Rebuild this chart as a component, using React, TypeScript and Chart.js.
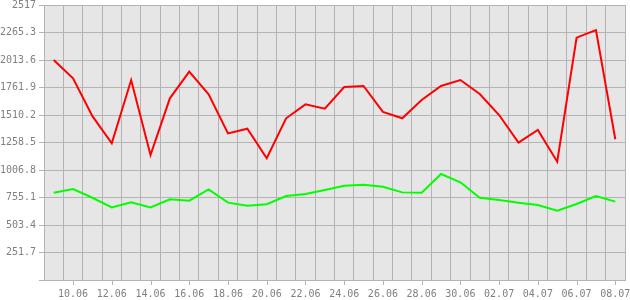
import React, { useEffect, useRef } from "react";
import { Chart, registerables } from "chart.js";

Chart.register(...registerables);

const dates = [
  "09.06", "10.06", "11.06", "12.06", "13.06", "14.06", "15.06", "16.06", "17.06", "18.06",
  "19.06", "20.06", "21.06", "22.06", "23.06", "24.06", "25.06", "26.06", "27.06", "28.06",
  "29.06", "30.06", "01.07", "02.07", "03.07", "04.07", "05.07", "06.07", "07.07", "08.07",
];

const redSeries = [
  2014, 1846, 1500, 1251, 1830, 1144, 1663, 1907, 1699, 1342,
  1385, 1114, 1480, 1608, 1568, 1766, 1776, 1538, 1480, 1647,
  1776, 1830, 1702, 1510, 1257, 1373, 1083, 2218, 2288, 1288,
];

const greenSeries = [
  799, 833, 753, 665, 711, 665, 738, 726, 830, 708,
  680, 693, 769, 787, 824, 863, 872, 854, 802, 799,
  970, 894, 753, 732, 708, 686, 634, 696, 769, 717,
];

const yTickValues = [0, 251.7, 503.4, 755.1, 1006.8, 1258.5, 1510.2, 1761.9, 2013.6, 2265.3, 2517];

const GRID = "#b4b4b4";
const TEXT = "#808080";
const FONT = { family: "'DejaVu Sans Mono', monospace", size: 10 };

const plotBg = {
  id: "plotBg",
  beforeDraw(chart: any) {
    const { ctx, chartArea } = chart;
    ctx.save();
    ctx.fillStyle = "#e6e6e6";
    ctx.fillRect(chartArea.left, chartArea.top, chartArea.right - chartArea.left, chartArea.bottom - chartArea.top);
    ctx.restore();
  },
};

const xTickMarks = {
  id: "xTickMarks",
  afterDraw(chart: any) {
    const { ctx, chartArea } = chart;
    const xs = chart.scales.x;
    ctx.save();
    ctx.strokeStyle = GRID;
    ctx.lineWidth = 1;
    dates.forEach((_, i) => {
      if (i % 2 !== 1) return;
      const px = Math.round(xs.getPixelForTick(i)) + 0.5;
      ctx.beginPath();
      ctx.moveTo(px, chartArea.bottom);
      ctx.lineTo(px, chartArea.bottom + 5);
      ctx.stroke();
    });
    ctx.restore();
  },
};

const zeroPad = (scale: any) => {
  scale.paddingTop = 0;
  scale.paddingBottom = 0;
  scale.paddingLeft = 0;
  scale.paddingRight = 0;
};

export default function App() {
  const ref = useRef<HTMLCanvasElement>(null);

  useEffect(() => {
    if (!ref.current) return;
    const chart = new Chart(ref.current, {
      type: "line",
      data: {
        labels: dates,
        datasets: [
          {
            data: redSeries,
            borderColor: "#ff0000",
            borderWidth: 2,
            pointRadius: 0,
            tension: 0,
            fill: false,
          },
          {
            data: greenSeries,
            borderColor: "#00ff00",
            borderWidth: 2,
            pointRadius: 0,
            tension: 0,
            fill: false,
          },
        ],
      },
      options: {
        responsive: false,
        animation: false,
        layout: { padding: { top: 5, right: 5, left: 0, bottom: 0 } },
        plugins: {
          legend: { display: false },
          tooltip: { enabled: false },
        },
        scales: {
          x: {
            type: "category",
            offset: true,
            grid: { color: GRID, offset: true, drawTicks: false, lineWidth: 1 },
            border: { color: GRID },
            afterFit: (scale: any) => {
              zeroPad(scale);
              scale.height = 20;
            },
            ticks: {
              autoSkip: false,
              maxRotation: 0,
              color: TEXT,
              font: FONT,
              padding: 8,
              callback: (_v: any, i: number) => (i % 2 === 1 ? dates[i] : ""),
            },
          },
          y: {
            min: 0,
            max: 2517,
            grid: { color: GRID, drawTicks: true, tickLength: 5, lineWidth: 1 },
            border: { color: GRID },
            afterBuildTicks: (scale: any) => {
              scale.ticks = yTickValues.map((v) => ({ value: v }));
            },
            afterFit: (scale: any) => {
              zeroPad(scale);
              scale.width = 44;
            },
            ticks: {
              color: TEXT,
              font: FONT,
              padding: 3,
              callback: (v: any) => (v === 0 ? "" : String(Number(Number(v).toFixed(1)))),
            },
          },
        },
      },
      plugins: [plotBg, xTickMarks],
    });
    return () => chart.destroy();
  }, []);

  return (
    <div style={{ position: "fixed", left: 0, top: 0, width: 630, height: 300, background: "#fff" }}>
      <canvas ref={ref} width={630} height={300} style={{ display: "block" }} />
    </div>
  );
}
